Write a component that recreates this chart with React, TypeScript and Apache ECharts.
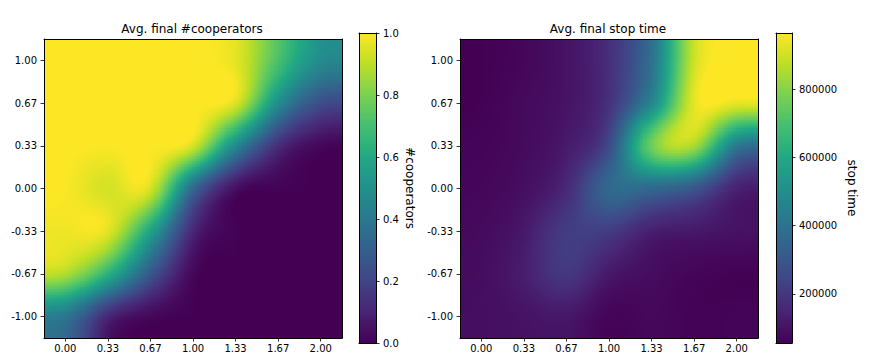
import React, { useEffect, useRef } from "react";
import * as echarts from "echarts";

const xLabels = ["0.00", "0.33", "0.67", "1.00", "1.33", "1.67", "2.00"];
const yLabels = ["1.00", "0.67", "0.33", "0.00", "-0.33", "-0.67", "-1.00"];

// top row first at the tick crossings
const cooperators = [
  [1.0, 1.0, 1.0, 1.0, 0.97, 0.72, 0.48],
  [1.0, 1.0, 1.0, 1.0, 1.0, 0.48, 0.22],
  [1.0, 1.0, 1.0, 1.0, 0.45, 0.1, 0.0],
  [1.0, 0.92, 1.0, 0.3, 0.0, 0.0, 0.0],
  [0.98, 1.0, 0.58, 0.08, 0.0, 0.0, 0.0],
  [0.92, 0.65, 0.26, 0.0, 0.0, 0.0, 0.0],
  [0.38, 0.06, 0.0, 0.0, 0.0, 0.0, 0.0],
];
const stopTime = [
  [56500, 70000, 100000, 170000, 380000, 920000, 964000],
  [56500, 80000, 100000, 170000, 450000, 964000, 964000],
  [65000, 80000, 115000, 230000, 840000, 900000, 380000],
  [70000, 90000, 150000, 390000, 350000, 280000, 120000],
  [80000, 115000, 225000, 215000, 120000, 110000, 100000],
  [85000, 130000, 215000, 110000, 85000, 65000, 56500],
  [90000, 100000, 110000, 60000, 75000, 60000, 65000],
];
const stopTicks = [200000, 400000, 600000, 800000];
const stopMin = 56500;
const stopMax = 964000;
const viridis = ["#440154", "#482475", "#414487", "#355f8d", "#2a788e", "#21918c", "#22a884", "#44bf70", "#7ad151", "#bddf26", "#fde725"];

const FONT = "DejaVu Sans";
const SUB = 21;

function hex(c: string) {
  return [1, 3, 5].map((i) => parseInt(c.slice(i, i + 2), 16));
}
const viridisRgb = viridis.map(hex);
function colorOf(t: number) {
  const p = Math.min(1, Math.max(0, t)) * (viridisRgb.length - 1);
  const i = Math.min(viridisRgb.length - 2, Math.floor(p));
  const f = p - i;
  const a = viridisRgb[i];
  const b = viridisRgb[i + 1];
  return `rgb(${[0, 1, 2].map((k) => Math.round(a[k] + (b[k] - a[k]) * f)).join(",")})`;
}
// imshow-style display smoothing of the 7x7 values (Mitchell kernel)
function kernel(x: number) {
  const d = Math.abs(x);
  const B = 1 / 3;
  const C = 1 / 3;
  if (d < 1) return ((12 - 9 * B - 6 * C) * d * d * d + (-18 + 12 * B + 6 * C) * d * d + (6 - 2 * B)) / 6;
  if (d < 2) return ((-B - 6 * C) * d * d * d + (6 * B + 30 * C) * d * d + (-12 * B - 48 * C) * d + (8 * B + 24 * C)) / 6;
  return 0;
}
function sample(m: number[][], u: number, v: number) {
  const n = m.length;
  const u0 = Math.floor(u);
  const v0 = Math.floor(v);
  let s = 0;
  for (let j = v0 - 1; j <= v0 + 2; j++) {
    for (let i = u0 - 1; i <= u0 + 2; i++) {
      const r = m[Math.min(n - 1, Math.max(0, j))];
      s += r[Math.min(n - 1, Math.max(0, i))] * kernel(u - i) * kernel(v - j);
    }
  }
  return s;
}

function heatRender(m: number[][], lo: number, hi: number) {
  return (_: any, api: any) => {
    const c = api.value(0);
    const r = api.value(1);
    const p = api.coord([c, r]);
    const w = api.size([1, 0])[0];
    const h = api.size([0, 1])[1];
    const children: any[] = [];
    for (let j = 0; j < SUB; j++) {
      const y0 = Math.round(p[1] - h / 2 + (h * j) / SUB);
      const y1 = Math.round(p[1] - h / 2 + (h * (j + 1)) / SUB);
      for (let i = 0; i < SUB; i++) {
        const x0 = Math.round(p[0] - w / 2 + (w * i) / SUB);
        const x1 = Math.round(p[0] - w / 2 + (w * (i + 1)) / SUB);
        const val = sample(m, c + (i + 0.5) / SUB - 0.5, r + (j + 0.5) / SUB - 0.5);
        children.push({
          type: "rect",
          shape: { x: x0, y: y0, width: x1 - x0, height: y1 - y0 },
          style: { fill: colorOf((val - lo) / (hi - lo)) },
        });
      }
    }
    return { type: "group", children };
  };
}
function barRender(lo: number, hi: number) {
  return (_: any, api: any) => {
    const a = api.coord([0, hi]);
    const b = api.coord([1, lo]);
    return {
      type: "rect",
      shape: { x: a[0], y: a[1], width: b[0] - a[0], height: b[1] - a[1] },
      style: {
        fill: new echarts.graphic.LinearGradient(
          0, 1, 0, 0,
          viridis.map((color, i) => ({ offset: i / (viridis.length - 1), color }))
        ),
      },
    };
  };
}
function cells(m: number[][]) {
  return m.flatMap((row, r) => row.map((v, c) => [c, r, v]));
}

const line = { show: true, lineStyle: { color: "#000", width: 1 } };
const tick = { show: true, length: 3.5, lineStyle: { color: "#000", width: 0.8 } };
const lab = { color: "#000", fontFamily: FONT, fontSize: 10 };

function option() {
  const grids = [
    { left: 44, top: 39, width: 298, height: 299 },
    { left: 460, top: 39, width: 298, height: 299 },
    { left: 359, top: 33, width: 17, height: 310 },
    { left: 776, top: 33, width: 16, height: 310 },
  ];
  const xAxis: any[] = [];
  const yAxis: any[] = [];
  [0, 1].forEach((g) => {
    xAxis.push({
      type: "category", gridIndex: g, data: xLabels, position: "bottom", z: 10,
      axisLine: line, axisTick: { ...tick, alignWithLabel: true }, axisLabel: { ...lab, margin: 5, interval: 0 }, splitLine: { show: false },
    });
    xAxis.push({
      type: "category", gridIndex: g, data: xLabels, position: "top", z: 10,
      axisLine: line, axisTick: { show: false }, axisLabel: { show: false }, splitLine: { show: false },
    });
    yAxis.push({
      type: "category", gridIndex: g, data: yLabels, inverse: true, position: "left", z: 10,
      axisLine: line, axisTick: { ...tick, alignWithLabel: true }, axisLabel: { ...lab, margin: 7, interval: 0 }, splitLine: { show: false },
    });
    yAxis.push({
      type: "category", gridIndex: g, data: yLabels, inverse: true, position: "right", z: 10,
      axisLine: line, axisTick: { show: false }, axisLabel: { show: false }, splitLine: { show: false },
    });
  });
  const bars = [
    { g: 2, lo: 0, hi: 1, name: "#cooperators", gap: 28 },
    { g: 3, lo: stopMin, hi: stopMax, name: "stop time", gap: 54 },
  ];
  bars.forEach((b) => {
    const values = b.g === 2 ? [0, 0.2, 0.4, 0.6, 0.8, 1] : stopTicks;
    xAxis.push({
      type: "value", gridIndex: b.g, min: 0, max: 1, position: "bottom", z: 10,
      axisLine: { ...line, onZero: false }, axisTick: { show: false }, axisLabel: { show: false }, splitLine: { show: false },
    });
    xAxis.push({
      type: "value", gridIndex: b.g, min: 0, max: 1, position: "top", z: 10,
      axisLine: { ...line, onZero: false }, axisTick: { show: false }, axisLabel: { show: false }, splitLine: { show: false },
    });
    yAxis.push({
      type: "value", gridIndex: b.g, min: b.lo, max: b.hi, position: "right", z: 10,
      name: b.name, nameLocation: "middle", nameRotate: -90, nameGap: b.gap,
      nameTextStyle: { color: "#000", fontFamily: FONT, fontSize: 12 },
      axisLine: { ...line, onZero: false },
      axisTick: { ...tick, customValues: values },
      axisLabel: {
        ...lab, margin: 7, customValues: values, showMinLabel: true, showMaxLabel: true,
        formatter: (v: number) => (b.g === 2 ? v.toFixed(1) : String(v)),
      },
      splitLine: { show: false },
    });
    yAxis.push({
      type: "value", gridIndex: b.g, min: b.lo, max: b.hi, position: "left", z: 10,
      axisLine: { ...line, onZero: false }, axisTick: { show: false }, axisLabel: { show: false }, splitLine: { show: false },
    });
  });
  return {
    animation: false,
    backgroundColor: "#fff",
    title: [
      { text: "Avg. final #cooperators", left: 187, top: 18, textAlign: "center", textStyle: { color: "#000", fontFamily: FONT, fontSize: 12, fontWeight: "normal" } },
      { text: "Avg. final stop time", left: 603, top: 18, textAlign: "center", textStyle: { color: "#000", fontFamily: FONT, fontSize: 12, fontWeight: "normal" } },
    ],
    grid: grids,
    xAxis,
    yAxis,
    series: [
      { type: "custom", name: "Avg. final #cooperators", xAxisIndex: 0, yAxisIndex: 0, silent: true, clip: false, encode: { x: 0, y: 1 }, data: cells(cooperators), renderItem: heatRender(cooperators, 0, 1) },
      { type: "custom", name: "Avg. final stop time", xAxisIndex: 2, yAxisIndex: 2, silent: true, clip: false, encode: { x: 0, y: 1 }, data: cells(stopTime), renderItem: heatRender(stopTime, stopMin, stopMax) },
      { type: "custom", name: "#cooperators", xAxisIndex: 4, yAxisIndex: 4, silent: true, encode: { x: 0, y: 1 }, data: [[0, 0]], renderItem: barRender(0, 1) },
      { type: "custom", name: "stop time", xAxisIndex: 6, yAxisIndex: 6, silent: true, encode: { x: 0, y: 1 }, data: [[0, stopMin]], renderItem: barRender(stopMin, stopMax) },
    ],
  };
}

export default function App() {
  const ref = useRef<HTMLDivElement>(null);
  useEffect(() => {
    document.body.style.margin = "0";
    const chart = echarts.init(ref.current!, undefined, { renderer: "svg" });
    chart.setOption(option() as any);
    return () => chart.dispose();
  }, []);
  return <div ref={ref} style={{ width: 872, height: 360 }} />;
}
